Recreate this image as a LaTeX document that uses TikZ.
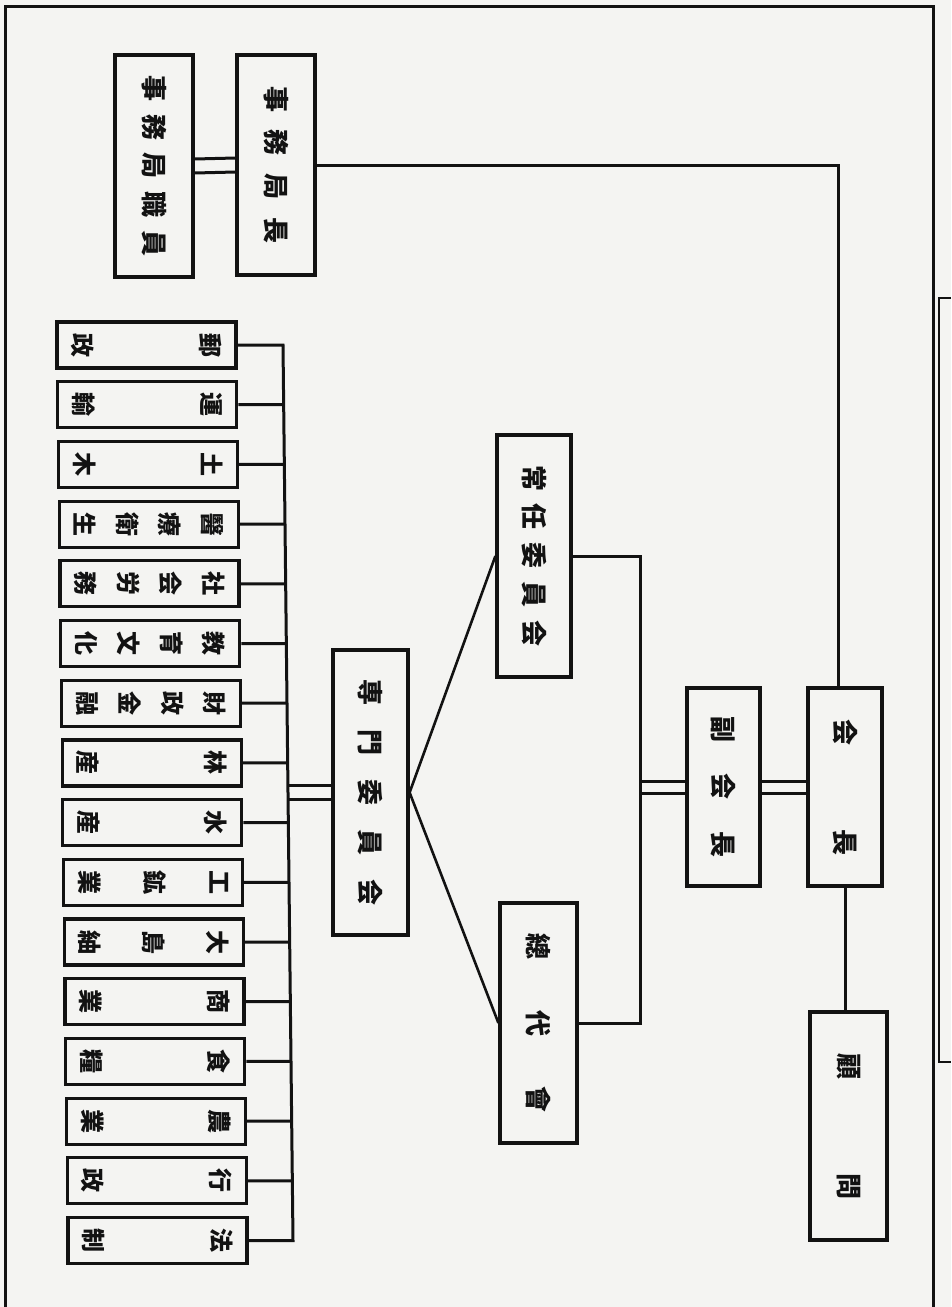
\documentclass[tikz,border=0pt]{standalone}
\usepackage{fontspec}
\newfontfamily\jp{Noto Sans CJK JP}
\usetikzlibrary{calc}
\newcommand\kj[1]{\hbox{#1}}
\newcommand\hrow[2]{\rotatebox{-90}{\hbox to #1pt{#2}}}
\newcommand\vcol[2]{\rotatebox{-90}{\vbox to #1pt{#2}}}
\definecolor{paper}{RGB}{244,244,242}
\definecolor{ink}{RGB}{18,18,18}
\tikzset{
  lbox/.style={draw, line width=3.2pt, inner sep=0pt, font=\jp\bfseries\fontsize{26}{26}\selectfont},
  sbox/.style={draw, line width=3.2pt, inner sep=0pt, minimum width=179, minimum height=46, font=\jp\bfseries\fontsize{24}{24}\selectfont},
  conn/.style={line width=3pt, line join=miter}
}
\newcommand\bigbox[6]{\node[lbox, minimum width={#4-#2}, minimum height={#5-#3}] (#1) at ({(#2+#4)/2},{(#3+#5)/2}) {#6};}
\newcommand\unitbox[2]{%
  \pgfmathsetmacro\yt{322+59.7*#1}%
  \pgfmathsetmacro\xl{57+11*#1/15}%
  \node[sbox] (s#1) at ({\xl+89.5},{\yt+23}) {\vcol{148}{#2}};}
\begin{document}
\begin{tikzpicture}[x=1pt,y=-1pt,color=ink]
\fill[paper] (0,0) rectangle (951,1307);
\useasboundingbox (0,0) rectangle (951,1307);
% frame
\draw[conn] (5,1307) -- (5,6) -- (933,6) -- (933,1307);
\draw[line width=2.4pt] (951,298) -- (939,298) -- (939,1062) -- (951,1062);
% large boxes
\bigbox{shokuin}{115}{55}{193}{277}{\hrow{181}{事\hfill 務\hfill 局\hfill 職\hfill 員}}
\bigbox{kyokucho}{237}{55}{315}{275}{\hrow{158}{事\hfill 務\hfill 局\hfill 長}}
\bigbox{jonin}{497}{435}{571}{677}{\hrow{182}{常\hfill 任\hfill 委\hfill 員\hfill 会}}
\bigbox{senmon}{333}{650}{408}{935}{\hrow{226}{専\hfill 門\hfill 委\hfill 員\hfill 会}}
\bigbox{sodai}{500}{903}{577}{1143}{\hrow{179}{總\hfill 代\hfill 會}}
\bigbox{fuku}{687}{688}{760}{886}{\hrow{141}{副\hfill 会\hfill 長}}
\bigbox{kaicho}{808}{688}{882}{886}{\hrow{136}{会\hfill 長}}
\bigbox{komon}{810}{1012}{887}{1240}{\hrow{146}{顧\hfill 問}}
% small boxes
\unitbox{0}{\kj{郵}\vfill\kj{政}}
\unitbox{1}{\kj{運}\vfill\kj{輸}}
\unitbox{2}{\kj{土}\vfill\kj{木}}
\unitbox{3}{\kj{醫}\vfill\kj{療}\vfill\kj{衛}\vfill\kj{生}}
\unitbox{4}{\kj{社}\vfill\kj{会}\vfill\kj{労}\vfill\kj{務}}
\unitbox{5}{\kj{教}\vfill\kj{育}\vfill\kj{文}\vfill\kj{化}}
\unitbox{6}{\kj{財}\vfill\kj{政}\vfill\kj{金}\vfill\kj{融}}
\unitbox{7}{\kj{林}\vfill\kj{産}}
\unitbox{8}{\kj{水}\vfill\kj{産}}
\unitbox{9}{\kj{工}\vfill\kj{鉱}\vfill\kj{業}}
\unitbox{10}{\kj{大}\vfill\kj{島}\vfill\kj{紬}}
\unitbox{11}{\kj{商}\vfill\kj{業}}
\unitbox{12}{\kj{食}\vfill\kj{糧}}
\unitbox{13}{\kj{農}\vfill\kj{業}}
\unitbox{14}{\kj{行}\vfill\kj{政}}
\unitbox{15}{\kj{法}\vfill\kj{制}}
% trunk
\coordinate (tt) at (283,345);
\coordinate (tb) at (293,1240.5);
\coordinate (tm) at ($(tt)!0.5!(tb)$);
\draw[conn] (s0.east) -- (tt) -- (tb) -- (s15.east);
\foreach \i in {1,...,14}{
  \draw[conn] (s\i.east) -- ($(tt)!{\i/15}!(tb)$);
}
% senmon to trunk (double)
\draw[conn] ([yshift=7pt]senmon.west) -- ([yshift=7pt]senmon.west -| tm);
\draw[conn] ([yshift=-7pt]senmon.west) -- ([yshift=-7pt]senmon.west -| tm);
% senmon fan
\draw[line width=2.6pt] (jonin.west) -- (senmon.east) -- (sodai.west);
% bracket
\coordinate (br) at (640,787);
\draw[conn] (jonin.east) -- (jonin.east -| br) -- (sodai.east -| br) -- (sodai.east);
\draw[conn] ([yshift=6pt]fuku.west) -- ([yshift=6pt]fuku.west -| br);
\draw[conn] ([yshift=-6pt]fuku.west) -- ([yshift=-6pt]fuku.west -| br);
% fuku to kaicho
\draw[conn] ([yshift=6pt]fuku.east) -- ([yshift=6pt]kaicho.west);
\draw[conn] ([yshift=-6pt]fuku.east) -- ([yshift=-6pt]kaicho.west);
% kyokucho to kaicho
\draw[conn] (kyokucho.east) -| ([xshift=-7pt]kaicho.north);
% shokuin double
\draw[conn] ([yshift=7pt]shokuin.east) -- ([yshift=7pt]kyokucho.west);
\draw[conn] ([yshift=-7pt]shokuin.east) -- ([yshift=-7pt]kyokucho.west);
% kaicho to komon
\draw[conn] (kaicho.south) -- (kaicho.south |- komon.north);
\end{tikzpicture}
\end{document}
